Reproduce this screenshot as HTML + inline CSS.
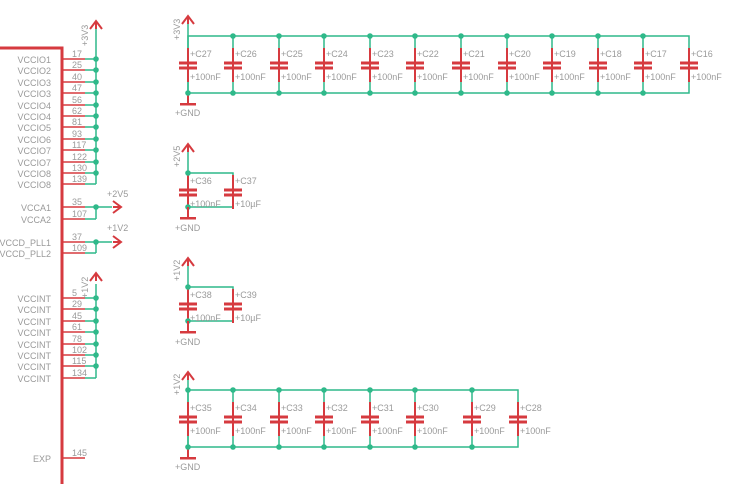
<!DOCTYPE html>
<html><head><meta charset="utf-8"><style>
html,body{margin:0;padding:0;background:#fff;width:741px;height:484px;overflow:hidden}
text{font-family:"Liberation Sans",sans-serif;font-size:9px;fill:#9a9a9a}
</style></head><body>
<svg width="741" height="484" viewBox="0 0 741 484" xmlns="http://www.w3.org/2000/svg">
<defs>
<g id="cap"><line x1="0" y1="-17" x2="0" y2="17" stroke="#d63a3f" stroke-width="2"/><rect x="-9" y="-3.5" width="18" height="3" fill="#d63a3f"/><rect x="-9" y="1.5" width="18" height="3" fill="#d63a3f"/></g>
<g id="dot"><circle r="2.8" fill="#2fb98a"/></g>
<g id="sup" stroke="#d63a3f" stroke-width="2" fill="none"><path d="M-6 9 L0 1 L6 9 M0 1 L0 9"/></g>
<g id="gnd"><line x1="0" y1="0" x2="0" y2="11" stroke="#d63a3f" stroke-width="2"/><rect x="-8" y="10" width="16" height="2.5" fill="#d63a3f"/></g>
</defs>
<g stroke="#2fb98a" stroke-width="1.5" fill="none">
<!-- left buses -->
<line x1="96" y1="26" x2="96" y2="184"/><line x1="96" y1="207" x2="96" y2="219"/><line x1="96" y1="207" x2="112" y2="207"/>
<line x1="96" y1="242" x2="96" y2="253"/><line x1="96" y1="242" x2="112" y2="242"/>
<line x1="96" y1="284" x2="96" y2="378"/>
<path d="M85 59H96M85 70H96M85 82H96M85 93H96M85 105H96M85 116H96M85 127H96M85 139H96M85 150H96M85 162H96M85 173H96M85 184H96M85 207H96M85 219H96M85 242H96M85 253H96M85 298H96M85 309H96M85 321H96M85 332H96M85 344H96M85 355H96M85 366H96M85 378H96"/>
<!-- top group -->
<line x1="188" y1="24" x2="188" y2="104"/>
<rect x="188" y="36" width="501" height="57"/>
<path d="M233 36V93M279 36V93M324 36V93M370 36V93M415 36V93M461 36V93M507 36V93M552 36V93M598 36V93M643 36V93"/>
<!-- 2V5 -->
<line x1="188" y1="152" x2="188" y2="219"/><rect x="188" y="173" width="45" height="34"/>
<!-- 1V2 -->
<line x1="188" y1="266" x2="188" y2="333"/><rect x="188" y="287" width="45" height="34"/>
<!-- bottom -->
<line x1="188" y1="378" x2="188" y2="458"/>
<rect x="188" y="390" width="330" height="57"/>
<path d="M233 390V447M279 390V447M324 390V447M370 390V447M415 390V447M472 390V447"/>
</g>
<!-- symbol body -->
<g stroke="#d63a3f" fill="none">
<path d="M0 48H62V484" stroke-width="3"/>
<path stroke-width="1.5" d="M62 59H85M62 70H85M62 82H85M62 93H85M62 105H85M62 116H85M62 127H85M62 139H85M62 150H85M62 162H85M62 173H85M62 184H85M62 207H85M62 219H85M62 242H85M62 253H85M62 298H85M62 309H85M62 321H85M62 332H85M62 344H85M62 355H85M62 366H85M62 378H85M62 458H85"/>
</g>
<g text-anchor="end">
<text x="51" y="63">VCCIO1</text><text x="51" y="74">VCCIO2</text><text x="51" y="86">VCCIO3</text><text x="51" y="97">VCCIO3</text><text x="51" y="109">VCCIO4</text><text x="51" y="120">VCCIO4</text><text x="51" y="131">VCCIO5</text><text x="51" y="143">VCCIO6</text><text x="51" y="154">VCCIO7</text><text x="51" y="166">VCCIO7</text><text x="51" y="177">VCCIO8</text><text x="51" y="188">VCCIO8</text>
<text x="51" y="211">VCCA1</text><text x="51" y="223">VCCA2</text><text x="51" y="246">VCCD_PLL1</text><text x="51" y="257">VCCD_PLL2</text>
<text x="51" y="302">VCCINT</text><text x="51" y="313">VCCINT</text><text x="51" y="325">VCCINT</text><text x="51" y="336">VCCINT</text><text x="51" y="348">VCCINT</text><text x="51" y="359">VCCINT</text><text x="51" y="370">VCCINT</text><text x="51" y="382">VCCINT</text>
<text x="51" y="462">EXP</text>
</g>
<g>
<text x="72" y="57">17</text><text x="72" y="68">25</text><text x="72" y="80">40</text><text x="72" y="91">47</text><text x="72" y="103">56</text><text x="72" y="114">62</text><text x="72" y="125">81</text><text x="72" y="137">93</text><text x="72" y="148">117</text><text x="72" y="160">122</text><text x="72" y="171">130</text><text x="72" y="182">139</text>
<text x="72" y="205">35</text><text x="72" y="217">107</text><text x="72" y="240">37</text><text x="72" y="251">109</text>
<text x="72" y="296">5</text><text x="72" y="307">29</text><text x="72" y="319">45</text><text x="72" y="330">61</text><text x="72" y="342">78</text><text x="72" y="353">102</text><text x="72" y="364">115</text><text x="72" y="376">134</text>
<text x="72" y="456">145</text>
</g>
<!-- left supplies -->
<use href="#sup" x="96" y="20"/><text transform="translate(88,46) rotate(-90)">+3V3</text>
<use href="#sup" x="96" y="272"/><text transform="translate(88,298) rotate(-90)">+1V2</text>
<g transform="translate(121,207) rotate(90)"><use href="#sup" x="0" y="-1"/></g>
<g transform="translate(121,242) rotate(90)"><use href="#sup" x="0" y="-1"/></g>
<text x="107" y="197">+2V5</text><text x="107" y="231">+1V2</text>
<g>
<use href="#dot" x="96" y="59"/><use href="#dot" x="96" y="70"/><use href="#dot" x="96" y="82"/><use href="#dot" x="96" y="93"/><use href="#dot" x="96" y="105"/><use href="#dot" x="96" y="116"/><use href="#dot" x="96" y="127"/><use href="#dot" x="96" y="139"/><use href="#dot" x="96" y="150"/><use href="#dot" x="96" y="162"/><use href="#dot" x="96" y="173"/>
<use href="#dot" x="96" y="207"/><use href="#dot" x="96" y="242"/>
<use href="#dot" x="96" y="298"/><use href="#dot" x="96" y="309"/><use href="#dot" x="96" y="321"/><use href="#dot" x="96" y="332"/><use href="#dot" x="96" y="344"/><use href="#dot" x="96" y="355"/><use href="#dot" x="96" y="366"/>
</g>
<!-- top group caps -->
<use href="#sup" x="188" y="15"/><text transform="translate(180,40) rotate(-90)">+3V3</text>
<use href="#gnd" x="188" y="93"/><text x="175" y="116">+GND</text>
<g>
<use href="#cap" x="188" y="65"/><use href="#cap" x="233" y="65"/><use href="#cap" x="279" y="65"/><use href="#cap" x="324" y="65"/><use href="#cap" x="370" y="65"/><use href="#cap" x="415" y="65"/><use href="#cap" x="461" y="65"/><use href="#cap" x="507" y="65"/><use href="#cap" x="552" y="65"/><use href="#cap" x="598" y="65"/><use href="#cap" x="643" y="65"/><use href="#cap" x="689" y="65"/>
<use href="#dot" x="188" y="93"/>
<use href="#dot" x="233" y="36"/><use href="#dot" x="279" y="36"/><use href="#dot" x="324" y="36"/><use href="#dot" x="370" y="36"/><use href="#dot" x="415" y="36"/><use href="#dot" x="461" y="36"/><use href="#dot" x="507" y="36"/><use href="#dot" x="552" y="36"/><use href="#dot" x="598" y="36"/><use href="#dot" x="643" y="36"/>
<use href="#dot" x="233" y="93"/><use href="#dot" x="279" y="93"/><use href="#dot" x="324" y="93"/><use href="#dot" x="370" y="93"/><use href="#dot" x="415" y="93"/><use href="#dot" x="461" y="93"/><use href="#dot" x="507" y="93"/><use href="#dot" x="552" y="93"/><use href="#dot" x="598" y="93"/><use href="#dot" x="643" y="93"/>
</g>
<g>
<text x="190" y="57">+C27</text><text x="235" y="57">+C26</text><text x="281" y="57">+C25</text><text x="326" y="57">+C24</text><text x="372" y="57">+C23</text><text x="417" y="57">+C22</text><text x="463" y="57">+C21</text><text x="509" y="57">+C20</text><text x="554" y="57">+C19</text><text x="600" y="57">+C18</text><text x="645" y="57">+C17</text><text x="691" y="57">+C16</text>
<text x="190" y="80">+100nF</text><text x="235" y="80">+100nF</text><text x="281" y="80">+100nF</text><text x="326" y="80">+100nF</text><text x="372" y="80">+100nF</text><text x="417" y="80">+100nF</text><text x="463" y="80">+100nF</text><text x="509" y="80">+100nF</text><text x="554" y="80">+100nF</text><text x="600" y="80">+100nF</text><text x="645" y="80">+100nF</text><text x="691" y="80">+100nF</text>
</g>
<!-- 2V5 group -->
<use href="#sup" x="188" y="143"/><text transform="translate(180,167) rotate(-90)">+2V5</text>
<use href="#cap" x="188" y="192"/><use href="#cap" x="233" y="192"/>
<use href="#dot" x="188" y="173"/><use href="#dot" x="188" y="207"/>
<use href="#gnd" x="188" y="207"/><text x="175" y="231">+GND</text>
<text x="190" y="184">+C36</text><text x="235" y="184">+C37</text><text x="190" y="207">+100nF</text><text x="235" y="207">+10µF</text>
<!-- 1V2 group -->
<use href="#sup" x="188" y="257"/><text transform="translate(180,281) rotate(-90)">+1V2</text>
<use href="#cap" x="188" y="306"/><use href="#cap" x="233" y="306"/>
<use href="#dot" x="188" y="287"/><use href="#dot" x="188" y="321"/>
<use href="#gnd" x="188" y="321"/><text x="175" y="345">+GND</text>
<text x="190" y="298">+C38</text><text x="235" y="298">+C39</text><text x="190" y="321">+100nF</text><text x="235" y="321">+10µF</text>
<!-- bottom group -->
<use href="#sup" x="188" y="371"/><text transform="translate(180,395) rotate(-90)">+1V2</text>
<use href="#gnd" x="188" y="447"/><text x="175" y="470">+GND</text>
<g>
<use href="#cap" x="188" y="419"/><use href="#cap" x="233" y="419"/><use href="#cap" x="279" y="419"/><use href="#cap" x="324" y="419"/><use href="#cap" x="370" y="419"/><use href="#cap" x="415" y="419"/><use href="#cap" x="472" y="419"/><use href="#cap" x="518" y="419"/>
<use href="#dot" x="188" y="390"/><use href="#dot" x="233" y="390"/><use href="#dot" x="279" y="390"/><use href="#dot" x="324" y="390"/><use href="#dot" x="370" y="390"/><use href="#dot" x="415" y="390"/><use href="#dot" x="472" y="390"/>
<use href="#dot" x="188" y="447"/><use href="#dot" x="233" y="447"/><use href="#dot" x="279" y="447"/><use href="#dot" x="324" y="447"/><use href="#dot" x="370" y="447"/><use href="#dot" x="415" y="447"/><use href="#dot" x="472" y="447"/>
</g>
<g>
<text x="190" y="411">+C35</text><text x="235" y="411">+C34</text><text x="281" y="411">+C33</text><text x="326" y="411">+C32</text><text x="372" y="411">+C31</text><text x="417" y="411">+C30</text><text x="474" y="411">+C29</text><text x="520" y="411">+C28</text>
<text x="190" y="434">+100nF</text><text x="235" y="434">+100nF</text><text x="281" y="434">+100nF</text><text x="326" y="434">+100nF</text><text x="372" y="434">+100nF</text><text x="417" y="434">+100nF</text><text x="474" y="434">+100nF</text><text x="520" y="434">+100nF</text>
</g>
</svg>
</body></html>
